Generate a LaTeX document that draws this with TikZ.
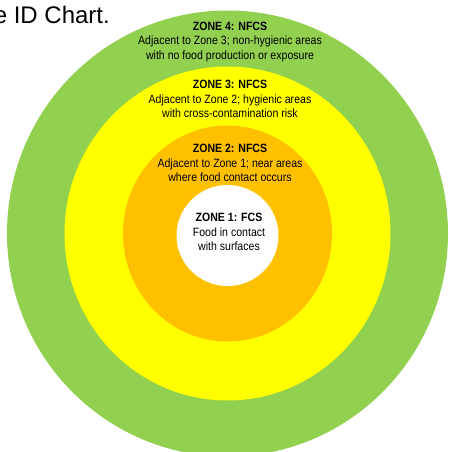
\documentclass[tikz,border=0pt]{standalone}
\usepackage{fontspec}
\setmainfont{Liberation Sans}
\newfontfamily\narrowfont[FakeStretch=0.88]{Liberation Sans}
\usepackage{xcolor}
\usepackage{tikz}
\usetikzlibrary{positioning,shapes.geometric}
\definecolor{zonegreen}{RGB}{146,208,80}
\definecolor{zoneyellow}{RGB}{255,255,0}
\definecolor{zoneorange}{RGB}{255,192,0}

\begin{document}
\begin{tikzpicture}[x=1pt, y=1pt]
    \tikzstyle{ring} = [ellipse, inner sep=0pt, draw=none]
    \tikzstyle{zonetext} = [align=center, text=black, font=\narrowfont\fontsize{12}{14.5}\selectfont]

    \useasboundingbox (0,0) rectangle (449,452);

    % zones, outer to inner
    \node [ring, fill=zonegreen, minimum width=441pt, minimum height=446pt] (zone4) at (227.5,218.5) {};
    \node [ring, fill=zoneyellow, minimum width=326pt, minimum height=334pt] (zone3) at (zone4.center) {};
    \node [ring, fill=zoneorange, minimum width=209pt, minimum height=216pt] (zone2) at (zone4.center) {};
    \node [ring, fill=white, minimum width=102pt, minimum height=101pt] (zone1) at (227.5,216.5) {};

    % labels
    \node [zonetext] (label4) at (230,410) {\textbf{ZONE 4: NFCS}\\Adjacent to Zone 3; non-hygienic areas\\with no food production or exposure};
    \node [zonetext] (label3) at (230,353) {\textbf{ZONE 3: NFCS}\\Adjacent to Zone 2; hygienic areas\\with cross-contamination risk};
    \node [zonetext] (label2) at (230,289) {\textbf{ZONE 2: NFCS}\\Adjacent to Zone 1; near areas\\where food contact occurs};
    \node [zonetext] (label1) at (229,220) {\textbf{ZONE 1: FCS}\\Food in contact\\with surfaces};

    \node [anchor=base east, inner sep=0pt, font=\fontsize{24}{28}\selectfont] (caption) at (110,428) {e ID Chart.};
\end{tikzpicture}
\end{document}
